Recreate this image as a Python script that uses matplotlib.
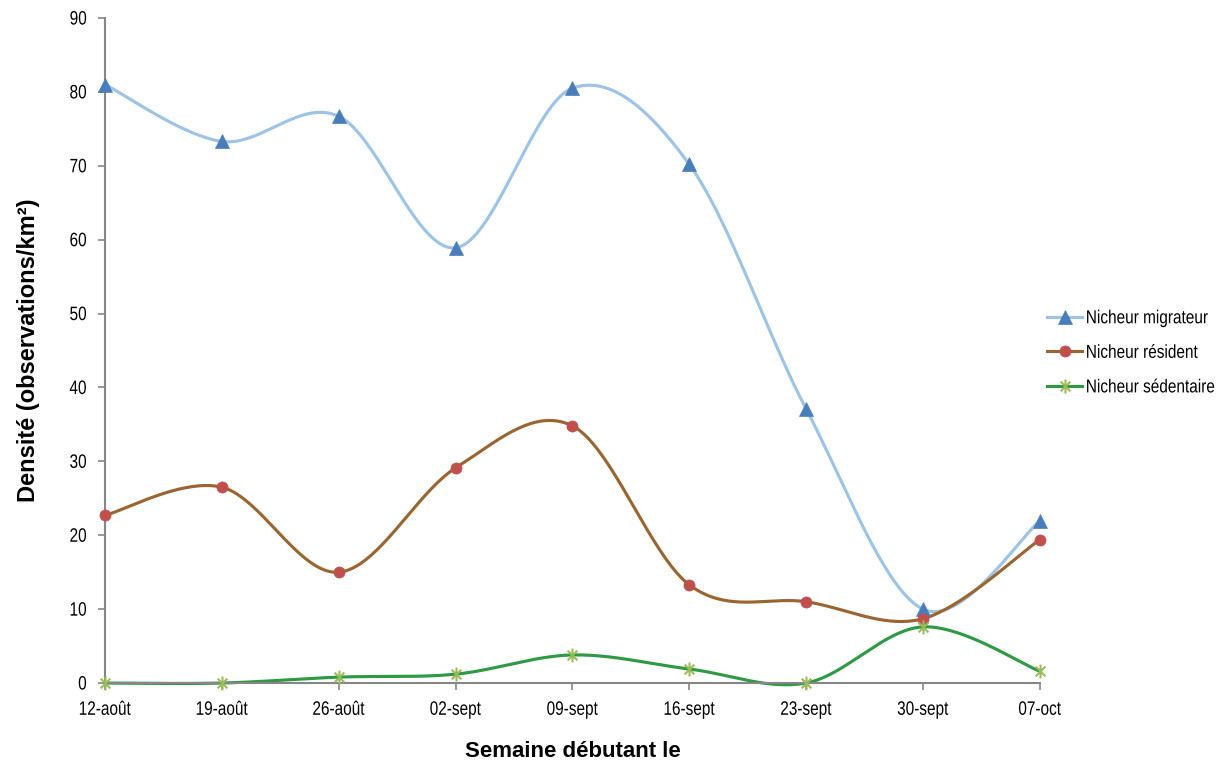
import numpy as np
import matplotlib.pyplot as plt
from matplotlib.path import Path
from matplotlib.patheffects import AbstractPathEffect
from matplotlib.transforms import Affine2D

semaines = ["12-août", "19-août", "26-août", "02-sept", "09-sept",
            "16-sept", "23-sept", "30-sept", "07-oct"]
migrateur = [81.0, 73.3, 76.7, 58.9, 80.5, 70.2, 37.1, 10.0, 21.9]
resident = [22.7, 26.5, 15.0, 29.1, 34.8, 13.3, 11.0, 8.7, 19.4]
sedentaire = [0.0, 0.0, 0.8, 1.2, 3.8, 1.9, 0.0, 7.6, 1.6]

plt.rcParams["font.family"] = ["Liberation Sans", "DejaVu Sans"]


class Etroit(AbstractPathEffect):
    """Resserre le texte horizontalement (police étroite)."""

    def __init__(self, sx=0.8, ancre="center"):
        super().__init__()
        self.sx = sx
        self.ancre = ancre

    def draw_path(self, renderer, gc, tpath, affine, rgbFace=None):
        v = tpath.vertices
        cx = 0.0
        if len(v):
            x0, x1 = v[:, 0].min(), v[:, 0].max()
            cx = {"left": x0, "center": (x0 + x1) / 2, "right": x1}[self.ancre]
        t = Affine2D().translate(-cx, 0).scale(self.sx, 1).translate(cx, 0)
        renderer.draw_path(gc, tpath, t + affine, rgbFace)


def lisse(y, n=40):
    # courbe lissée type tableur : Bézier cubique façon Catmull-Rom
    x = np.arange(len(y), dtype=float)
    y = np.asarray(y, dtype=float)
    px = np.concatenate([[x[0]], x, [x[-1]]])
    py = np.concatenate([[y[0]], y, [y[-1]]])
    xs, ys = [], []
    t = np.linspace(0, 1, n)[:, None]
    for i in range(len(x) - 1):
        p0, p1, p2, p3 = (np.array([px[i + k], py[i + k]]) for k in range(4))
        c1 = p1 + (p2 - p0) / 6
        c2 = p2 - (p3 - p1) / 6
        b = (1 - t) ** 3 * p1 + 3 * (1 - t) ** 2 * t * c1 \
            + 3 * (1 - t) * t ** 2 * c2 + t ** 3 * p2
        xs.append(b[:, 0])
        ys.append(b[:, 1])
    return np.concatenate(xs), np.concatenate(ys)


# marqueur étoile : croix + trait vertical
etoile = Path([(-0.7, -0.7), (0.7, 0.7), (-0.7, 0.7), (0.7, -0.7), (0, -1), (0, 1)],
              [Path.MOVETO, Path.LINETO, Path.MOVETO, Path.LINETO, Path.MOVETO, Path.LINETO])

fig = plt.figure(figsize=(12.22, 7.63), dpi=100)
ax = fig.add_axes([0.0859, 0.1048, 0.765, 0.8716])

series = [
    (migrateur, "Nicheur migrateur", "#9DC3E6", "^", "#4A7EBB", 10),
    (resident, "Nicheur résident", "#9B6531", "o", "#C0504D", 8),
    (sedentaire, "Nicheur sédentaire", "#2E9A44", etoile, "#9BBB59", 10),
]
x = np.arange(len(semaines))
handles = []
for vals, nom, lc, mk, mc, ms in series:
    mew = 1.5 if mk is etoile else 0.5
    sx, sy = lisse(vals)
    ax.plot(sx, sy, color=lc, lw=2.25, solid_capstyle="round", zorder=2, clip_on=False)
    ax.plot(x, vals, linestyle="none", marker=mk, color=mc, ms=ms,
            markeredgewidth=mew, zorder=3, clip_on=False)
    h, = ax.plot([], [], color=lc, lw=2.25, marker=mk, ms=ms, mfc=mc, mec=mc,
                 markeredgewidth=mew, label=nom)
    handles.append(h)

ax.set_xlim(0, len(semaines) - 1)
ax.set_ylim(0, 90)
ax.set_yticks(range(0, 91, 10))
ax.set_xticks(x)
ax.set_xticklabels(semaines)
ax.tick_params(axis="both", labelsize=14, length=5, width=1.2, color="#868686",
               direction="out")
ax.tick_params(axis="x", pad=8.5)
ax.tick_params(axis="y", pad=8)
for s in ("top", "right"):
    ax.spines[s].set_visible(False)
for s in ("left", "bottom"):
    ax.spines[s].set_color("#868686")
    ax.spines[s].set_linewidth(1.5)

for lbl in ax.get_xticklabels():
    lbl.set_path_effects([Etroit(0.79, "center")])
for lbl in ax.get_yticklabels():
    lbl.set_path_effects([Etroit(0.79, "right")])

ax.set_xlabel("Semaine débutant le", fontsize=16, fontweight="bold", labelpad=16)
ax.set_ylabel("Densité (observations/km²)", fontsize=17, fontweight="bold", labelpad=18)

leg = fig.legend(handles=handles, loc="center left", bbox_to_anchor=(0.8568, 0.537),
                 frameon=False, fontsize=13.5, handlelength=1.87, handletextpad=0.2,
                 labelspacing=0.93, borderaxespad=0, borderpad=0)
for txt in leg.get_texts():
    txt.set_path_effects([Etroit(0.82, "left")])

fig.savefig("out.png", dpi=100)
